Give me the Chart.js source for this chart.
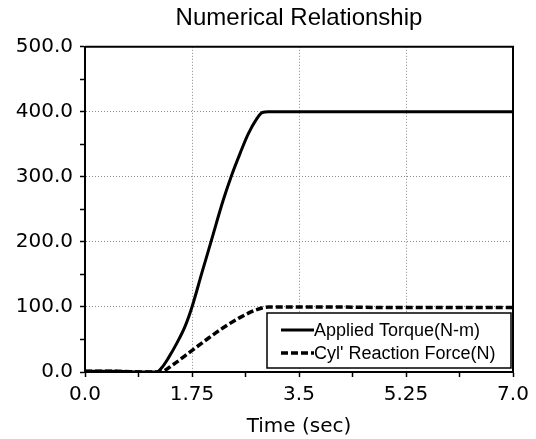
<!DOCTYPE html>
<html lang="en">
<head>
    <meta charset="UTF-8">
    <title>Numerical Relationship</title>
    <script src="https://cdn.jsdelivr.net/npm/chart.js"></script>
    <style>
        html, body { margin: 0; padding: 0; background: #fff; }
        #wrap { width: 536px; height: 439px; }
    </style>
</head>
<body>
    <div id="wrap"><canvas id="relChart" width="536" height="439"></canvas></div>

    <script>
        // Datos
        const torqueTime = [0, 0.5, 1.0, 1.17, 1.25, 1.36, 1.50, 1.64, 1.75, 1.91, 2.06, 2.26, 2.40, 2.54, 2.67, 2.80, 2.90, 3.0, 4.0, 5.0, 6.0, 7.0];
        const torqueValues = [1, 1, 0, 0, 6, 21, 44, 71, 100, 152, 200, 264, 303, 337, 366, 388, 399, 400, 400, 400, 400, 400];

        const forceTime = [0, 0.5, 1.0, 1.23, 1.45, 1.72, 1.99, 2.26, 2.54, 2.81, 3.0, 4.0, 5.0, 6.0, 7.0];
        const forceValues = [1, 1, 0, 0, 12, 31, 50, 68, 84, 96, 100, 100, 99, 99, 99];

        const xTickValues = [0, 1.75, 3.5, 5.25, 7.0];
        const xTickLabels = ['0.0', '1.75', '3.5', '5.25', '7.0'];
        const yTickValues = [0, 100, 200, 300, 400, 500];
        const yTickLabels = ['0.0', '100.0', '200.0', '300.0', '400.0', '500.0'];

        const seriesNames = ['Applied Torque(N-m)', "Cyl' Reaction Force(N)"];

        function toPoints(xs, ys) {
            return xs.map((x, i) => ({ x: x, y: ys[i] }));
        }

        function isMajorX(v) {
            return xTickValues.some(t => Math.abs(t - v) < 1e-6);
        }

        // Marco del área de trazado y leyenda dentro del gráfico
        const frameAndLegend = {
            id: 'frameAndLegend',
            afterDatasetsDraw(chart) {
                const ctx = chart.ctx;
                const a = chart.chartArea;
                ctx.save();
                ctx.strokeStyle = '#000';
                ctx.lineWidth = 2;
                ctx.beginPath();
                ctx.moveTo(a.left, a.top);
                ctx.lineTo(a.right, a.top);
                ctx.lineTo(a.right, a.bottom);
                ctx.stroke();

                // leyenda
                const w = 244, h = 55;
                const bx = a.right - 2 - w, by = a.bottom - 4 - h;
                ctx.fillStyle = '#fff';
                ctx.fillRect(bx, by, w, h);
                ctx.lineWidth = 1.5;
                ctx.strokeRect(bx, by, w, h);

                ctx.font = '18px "Liberation Sans", Arial, sans-serif';
                ctx.textBaseline = 'middle';
                ctx.textAlign = 'left';
                chart.data.datasets.forEach((ds, i) => {
                    const y = by + 17 + i * 23;
                    ctx.beginPath();
                    ctx.setLineDash(ds.borderDash || []);
                    ctx.lineWidth = ds.borderWidth;
                    ctx.strokeStyle = ds.borderColor;
                    ctx.moveTo(bx + 14, y);
                    ctx.lineTo(bx + 47, y);
                    ctx.stroke();
                    ctx.setLineDash([]);
                    ctx.fillStyle = '#000';
                    ctx.fillText(ds.label, bx + 47, y + 1);
                });
                ctx.restore();
            }
        };

        const ctx = document.getElementById('relChart').getContext('2d');
        const relChart = new Chart(ctx, {
            type: 'line',
            data: {
                datasets: [{
                    label: seriesNames[0],
                    data: toPoints(torqueTime, torqueValues),
                    borderColor: '#000',
                    borderWidth: 3,
                    pointRadius: 0,
                    cubicInterpolationMode: 'monotone',
                    fill: false
                }, {
                    label: seriesNames[1],
                    data: toPoints(forceTime, forceValues),
                    borderColor: '#000',
                    borderWidth: 3.5,
                    borderDash: [7, 3],
                    pointRadius: 0,
                    cubicInterpolationMode: 'monotone',
                    fill: false
                }]
            },
            options: {
                responsive: false,
                animation: false,
                layout: { padding: { left: 0, right: 23, top: 0, bottom: 0 } },
                plugins: {
                    legend: { display: false },
                    tooltip: { enabled: false },
                    title: {
                        display: true,
                        fullSize: false,
                        text: 'Numerical Relationship',
                        color: '#000',
                        font: { family: '"Liberation Sans", Arial, sans-serif', size: 24, weight: 'normal' },
                        padding: { top: 4, bottom: 14 }
                    }
                },
                scales: {
                    x: {
                        type: 'linear',
                        min: 0,
                        max: 7,
                        afterFit: scale => { scale.height = 67; },
                        afterBuildTicks: scale => {
                            const t = [];
                            for (let i = 0; i <= 8; i++) t.push({ value: i * 0.875 });
                            scale.ticks = t;
                        },
                        ticks: {
                            autoSkip: false,
                            maxRotation: 0,
                            color: '#000',
                            padding: 6,
                            font: { family: '"DejaVu Sans", sans-serif', size: 20 },
                            callback: function (v) {
                                const i = xTickValues.findIndex(t => Math.abs(t - v) < 1e-6);
                                return i >= 0 ? xTickLabels[i] : '';
                            }
                        },
                        grid: {
                            color: c => (c.tick && isMajorX(c.tick.value) && c.tick.value > 0 && c.tick.value < 7) ? '#8a8a8a' : 'rgba(0,0,0,0)',
                            lineWidth: 1,
                            tickColor: '#000',
                            tickLength: 5,
                            tickWidth: 1.5
                        },
                        border: { color: '#000', width: 2, dash: [1, 2] },
                        title: {
                            display: true,
                            text: 'Time (sec)',
                            color: '#000',
                            font: { family: '"DejaVu Sans", sans-serif', size: 20 },
                            padding: { top: 0, bottom: 0 }
                        }
                    },
                    y: {
                        min: 0,
                        max: 500,
                        afterFit: scale => { scale.width = 85; },
                        afterBuildTicks: scale => {
                            const t = [];
                            for (let v = 0; v <= 500; v += 50) t.push({ value: v });
                            scale.ticks = t;
                        },
                        ticks: {
                            color: '#000',
                            padding: 7,
                            font: { family: '"DejaVu Sans", sans-serif', size: 20 },
                            callback: function (v) {
                                const i = yTickValues.indexOf(v);
                                return i >= 0 ? yTickLabels[i] : '';
                            }
                        },
                        grid: {
                            color: c => (c.tick && c.tick.value % 100 === 0 && c.tick.value > 0 && c.tick.value < 500) ? '#8a8a8a' : 'rgba(0,0,0,0)',
                            lineWidth: 1,
                            tickColor: '#000',
                            tickLength: 5,
                            tickWidth: 1.5
                        },
                        border: { color: '#000', width: 2, dash: [1, 2] }
                    }
                }
            },
            plugins: [frameAndLegend]
        });
    </script>
</body>
</html>
